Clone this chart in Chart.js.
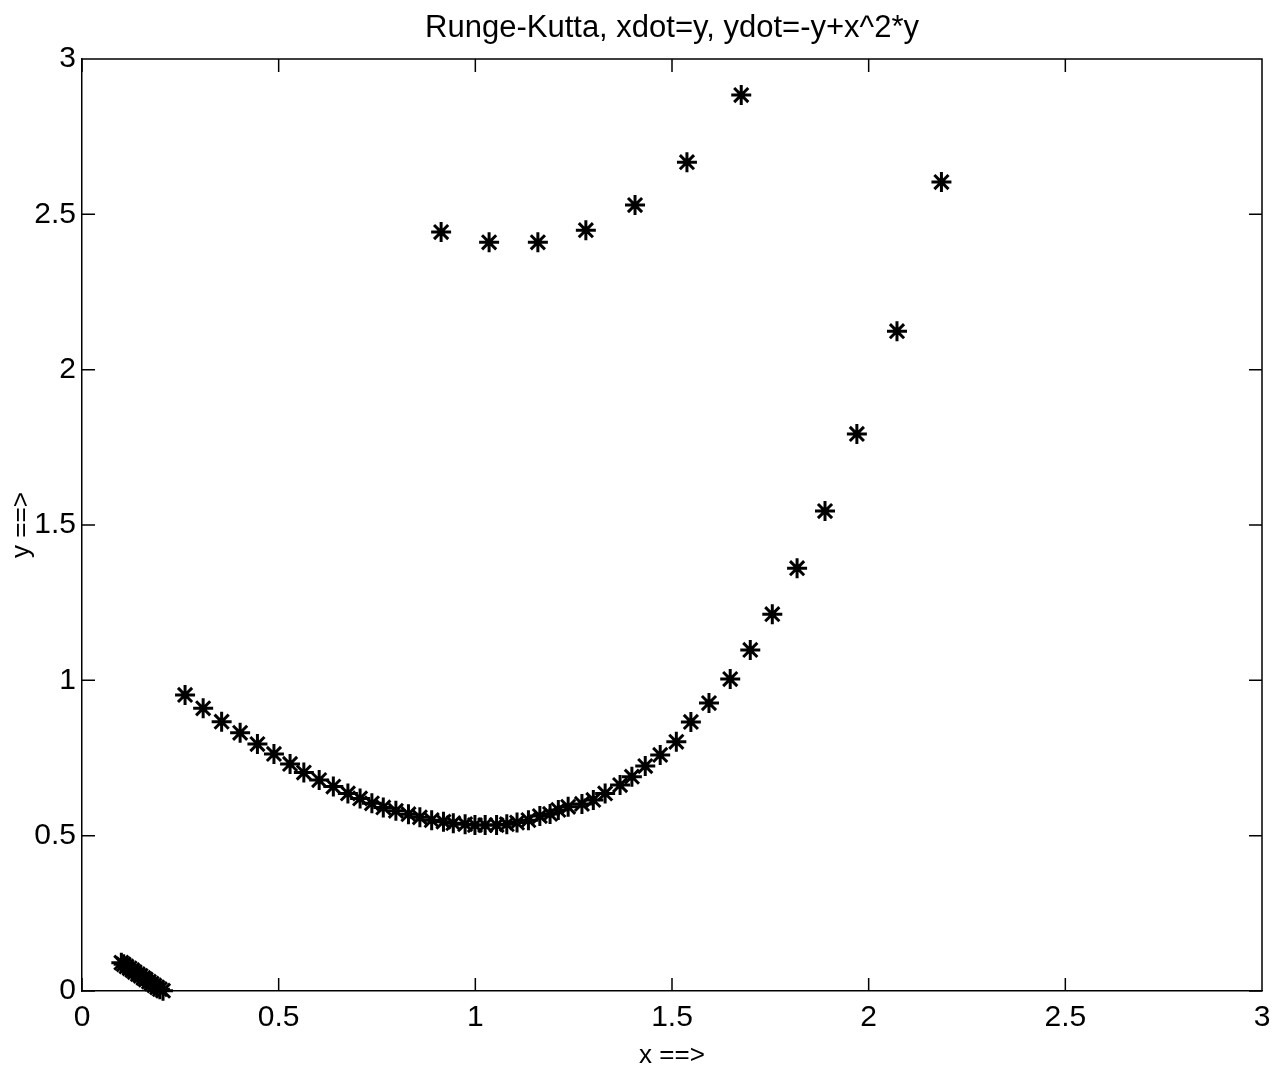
<!DOCTYPE html>
<html>
<head>
<meta charset="utf-8">
<script src="https://cdn.jsdelivr.net/npm/chart.js@4"></script>
<style>
  body { margin: 0; background: #fff; }
  #wrap { width: 1286px; height: 1071px; }
</style>
</head>
<body>
<div id="wrap"><canvas id="chart" width="1286" height="1071"></canvas></div>
<script>
// start-up blob near the origin (points overlap into a thick stroke)
const startX = [0.100, 0.106, 0.113, 0.121, 0.128, 0.134, 0.142, 0.149, 0.156, 0.162, 0.170, 0.177, 0.184, 0.191, 0.198, 0.206];
const startY = [0.091, 0.086, 0.079, 0.073, 0.067, 0.061, 0.054, 0.049, 0.042, 0.037, 0.030, 0.024, 0.018, 0.012, 0.006, 0.001];

// main trajectory
const curveX = [0.262, 0.308, 0.355, 0.402, 0.446, 0.488, 0.529, 0.564, 0.603, 0.639, 0.676, 0.707, 0.737, 0.766,
  0.798, 0.830, 0.859, 0.889, 0.919, 0.944, 0.974, 0.999, 1.025, 1.054, 1.080, 1.106, 1.135, 1.164, 1.190, 1.211,
  1.236, 1.271, 1.300, 1.330, 1.368, 1.398, 1.432, 1.470, 1.511, 1.548, 1.594, 1.648, 1.699, 1.755, 1.818, 1.889,
  1.970, 2.072, 2.185];
const curveY = [0.953, 0.910, 0.867, 0.831, 0.795, 0.763, 0.731, 0.703, 0.679, 0.658, 0.636, 0.620, 0.604, 0.591,
  0.580, 0.569, 0.559, 0.550, 0.545, 0.540, 0.537, 0.534, 0.534, 0.534, 0.537, 0.542, 0.550, 0.563, 0.570, 0.583,
  0.593, 0.602, 0.615, 0.636, 0.663, 0.690, 0.724, 0.760, 0.802, 0.866, 0.927, 1.004, 1.098, 1.213, 1.361, 1.545,
  1.793, 2.124, 2.604];

// upper row of points
const upperX = [0.913, 1.035, 1.159, 1.281, 1.406, 1.538, 1.676];
const upperY = [2.443, 2.410, 2.410, 2.449, 2.530, 2.668, 2.884];

const xTickLabels = ['0', '0.5', '1', '1.5', '2', '2.5', '3'];
const yTickLabels = ['0', '0.5', '1', '1.5', '2', '2.5', '3'];

function toPoints(xs, ys) {
  return xs.map((x, i) => ({ x: x, y: ys[i] }));
}

function starSet(xs, ys) {
  return {
    data: toPoints(xs, ys),
    pointStyle: 'star',
    pointRadius: 10,
    pointBorderWidth: 3,
    borderColor: '#000',
    backgroundColor: '#000',
    showLine: false,
    clip: false
  };
}

// matlab style box: top/right edges plus inward ticks on all four sides
const boxTicks = {
  id: 'boxTicks',
  afterDraw(chart) {
    const ctx = chart.ctx;
    const a = chart.chartArea;
    const xs = chart.scales.x, ys = chart.scales.y;
    const len = 13;
    ctx.save();
    ctx.strokeStyle = '#000';
    ctx.lineWidth = 1.5;
    ctx.beginPath();
    ctx.moveTo(a.left, a.top);
    ctx.lineTo(a.right, a.top);
    ctx.lineTo(a.right, a.bottom);
    xs.ticks.forEach(t => {
      const p = xs.getPixelForValue(t.value);
      ctx.moveTo(p, a.bottom); ctx.lineTo(p, a.bottom - len);
      ctx.moveTo(p, a.top); ctx.lineTo(p, a.top + len);
    });
    ys.ticks.forEach(t => {
      const p = ys.getPixelForValue(t.value);
      ctx.moveTo(a.left, p); ctx.lineTo(a.left + len, p);
      ctx.moveTo(a.right, p); ctx.lineTo(a.right - len, p);
    });
    ctx.stroke();
    ctx.restore();
  }
};

const font = 'Liberation Sans, Arial, sans-serif';

new Chart(document.getElementById('chart'), {
  type: 'scatter',
  data: {
    datasets: [starSet(startX, startY), starSet(curveX, curveY), starSet(upperX, upperY)]
  },
  options: {
    responsive: false,
    animation: false,
    events: [],
    layout: { padding: { left: 0, right: 24, top: 0, bottom: 0 } },
    plugins: {
      legend: { display: false },
      tooltip: { enabled: false },
      title: {
        display: true,
        text: 'Runge-Kutta, xdot=y, ydot=-y+x^2*y',
        fullSize: false,
        color: '#000',
        font: { family: font, size: 31, weight: 'normal' },
        padding: { top: 9.4, bottom: 12.4 }
      }
    },
    scales: {
      x: {
        type: 'linear',
        min: 0,
        max: 3,
        grid: { display: false, drawTicks: false },
        border: { display: true, color: '#000', width: 1.5 },
        ticks: {
          stepSize: 0.5,
          padding: 9,
          color: '#000',
          font: { family: font, size: 30 },
          maxRotation: 0,
          callback: (v, i) => xTickLabels[i]
        },
        title: {
          display: true,
          text: 'x ==>',
          color: '#000',
          font: { family: font, size: 26 },
          padding: { top: 0, bottom: 0 }
        },
        afterFit(scale) { scale.height = 80; }
      },
      y: {
        type: 'linear',
        min: 0,
        max: 3,
        grid: { display: false, drawTicks: false },
        border: { display: true, color: '#000', width: 1.5 },
        ticks: {
          stepSize: 0.5,
          padding: 6,
          color: '#000',
          font: { family: font, size: 30 },
          callback: (v, i) => yTickLabels[i]
        },
        title: {
          display: true,
          text: 'y ==>',
          color: '#000',
          font: { family: font, size: 26 },
          padding: { top: 6, bottom: 0 }
        },
        afterFit(scale) { scale.width = 82; }
      }
    }
  },
  plugins: [boxTicks]
});
</script>
</body>
</html>
